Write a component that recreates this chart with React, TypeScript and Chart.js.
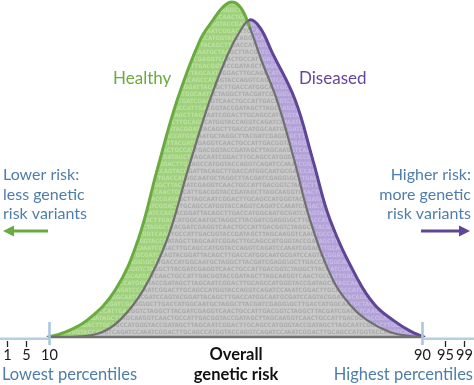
import React, { useEffect, useRef } from "react";
import { Chart, registerables } from "chart.js";

Chart.register(...registerables);

// ---- data (x: percentile of overall genetic risk, y: relative density) ----
const healthyX = [9.8, 13.0, 18.2, 24.2, 29.1, 33.2, 37.5, 42.4, 45.2, 47.3, 49.25, 51.2, 53.1, 55.7, 58.9, 62.6, 66.0, 70.9, 74.6, 78.2, 83.1, 87.4, 90.4];
const healthyY = [0, 1.2, 5.0, 13.9, 28.8, 49.6, 70.3, 88.1, 94.1, 97.9, 99.4, 97.6, 91.7, 81.6, 70.3, 52.5, 34.7, 16.9, 9.5, 5.0, 1.5, 0.3, 0];
const diseasedX = [9.8, 14.9, 20.9, 25.2, 30.2, 35.3, 39.8, 44.5, 48.2, 51.0, 53.1, 55.3, 57.8, 62.8, 66.6, 70.3, 76.3, 79.9, 83.8, 87.4, 90.4];
const diseasedY = [0, 0, 1.2, 5.0, 13.9, 28.8, 49.6, 70.3, 83.4, 90.8, 94.1, 91.7, 84.6, 70.3, 52.5, 34.7, 16.9, 9.5, 5.0, 1.8, 0];

const tickValues = [1, 5, 10, 90, 95, 99];
const tickLabels = ["1", "5", "10", "90", "95", "99"];
const majorTickValues = [10, 90];

const seriesNames = ["Healthy", "Diseased"];
const leftNote = ["Lower risk:", "less genetic", "risk variants"];
const rightNote = ["Higher risk:", "more genetic", "risk variants"];
const axisTitle = ["Overall", "genetic risk"];
const lowLabel = "Lowest percentiles";
const highLabel = "Highest percentiles";

const DNA = "GATCCAGTACGGATTACAGCTTGACCATGGCAATGCTAGGCTTACGATCGAGGTCAACTGCCATTGACGGTACCGATAGCTTAGCAATCGGACTTGCAGCCATGGTACCAGGTCA";

const GREEN = "#6aab3f";
const PURPLE = "#5e4595";
const INNER = "#707070";
const BLUE_TEXT = "#4f7dab";
const FONT = "Lato, 'Open Sans', sans-serif";

function makePattern(bg: string, fg: string): CanvasPattern | string {
  const c = document.createElement("canvas");
  c.width = 144;
  c.height = 42;
  const g = c.getContext("2d");
  if (!g) return bg;
  g.fillStyle = bg;
  g.fillRect(0, 0, c.width, c.height);
  g.fillStyle = fg;
  g.font = "bold 6px 'DejaVu Sans Condensed', 'DejaVu Sans', sans-serif";
  g.textBaseline = "top";
  for (let r = 0; r < 6; r++) {
    const off = (r * 17) % DNA.length;
    const s = DNA.slice(off) + DNA.slice(0, off);
    g.fillText(s, -((r * 3) % 7), r * 7);
  }
  return g.createPattern(c, "repeat") || bg;
}

function interp(xs: number[], ys: number[], x: number): number {
  if (x <= xs[0]) return ys[0];
  for (let i = 1; i < xs.length; i++) {
    if (x <= xs[i]) {
      const t = (x - xs[i - 1]) / (xs[i] - xs[i - 1]);
      return ys[i - 1] + t * (ys[i] - ys[i - 1]);
    }
  }
  return ys[ys.length - 1];
}

function isOuter(sx: number[], sy: number[], ox: number[], oy: number[]) {
  return (c: any) => {
    const i0 = c.p0DataIndex;
    const i1 = c.p1DataIndex;
    const mx = (sx[i0] + sx[i1]) / 2;
    const my = (sy[i0] + sy[i1]) / 2;
    return my > interp(ox, oy, mx) + 0.01;
  };
}

const decorPlugin = {
  id: "decor",
  afterDatasetsDraw(chart: any) {
    const ctx: CanvasRenderingContext2D = chart.ctx;
    const xs = chart.scales.x;
    const base = chart.chartArea.bottom;
    const W = chart.width;
    const xStart = xs.getPixelForValue(healthyX[0]);
    const xEnd = xs.getPixelForValue(diseasedX[diseasedX.length - 1]);
    ctx.save();
    // light blue axis outside the curves
    ctx.strokeStyle = "#b4cfe1";
    ctx.lineWidth = 2.6;
    ctx.beginPath();
    ctx.moveTo(0, base + 1.8);
    ctx.lineTo(xStart, base + 1.8);
    ctx.moveTo(xEnd, base + 1.8);
    ctx.lineTo(W, base + 1.8);
    ctx.stroke();
    // dark baseline under the curves
    ctx.strokeStyle = INNER;
    ctx.lineWidth = 2.6;
    ctx.beginPath();
    ctx.moveTo(xStart, base);
    ctx.lineTo(xEnd, base);
    ctx.stroke();
    // ticks
    tickValues.forEach((v, i) => {
      const x = Math.round(xs.getPixelForValue(v)) + 0.5;
      if (majorTickValues.includes(v)) {
        ctx.strokeStyle = "#a9c8dc";
        ctx.lineWidth = 2.6;
        ctx.beginPath();
        ctx.moveTo(x, base - 15);
        ctx.lineTo(x, base + 8);
        ctx.stroke();
      } else {
        ctx.strokeStyle = "#222";
        ctx.lineWidth = 1.3;
        ctx.beginPath();
        ctx.moveTo(x, base + 4);
        ctx.lineTo(x, base + 10);
        ctx.stroke();
      }
      ctx.fillStyle = "#1a1a1a";
      ctx.font = `14.5px ${FONT}`;
      ctx.textAlign = "center";
      ctx.textBaseline = "alphabetic";
      ctx.fillText(tickLabels[i], x, base + 23);
    });
    // percentile captions
    ctx.fillStyle = BLUE_TEXT;
    ctx.font = `16.5px ${FONT}`;
    ctx.textAlign = "left";
    ctx.fillText(lowLabel, 2, base + 43);
    ctx.textAlign = "right";
    ctx.fillText(highLabel, W - 1, base + 43);
    // axis title
    ctx.fillStyle = "#111";
    ctx.font = `bold 16.5px ${FONT}`;
    ctx.textAlign = "center";
    ctx.fillText(axisTitle[0], 236, base + 23);
    ctx.fillText(axisTitle[1], 236, base + 43);
    // series names
    ctx.font = `17px ${FONT}`;
    ctx.textAlign = "left";
    ctx.fillStyle = GREEN;
    ctx.fillText(seriesNames[0], 113, 84);
    ctx.fillStyle = "#62489a";
    ctx.fillText(seriesNames[1], 299, 84);
    // side notes
    ctx.font = `16px ${FONT}`;
    ctx.fillStyle = BLUE_TEXT;
    leftNote.forEach((t, i) => {
      ctx.textAlign = "left";
      ctx.fillText(t, 3, 180 + i * 19.6);
    });
    rightNote.forEach((t, i) => {
      ctx.textAlign = "right";
      ctx.fillText(t, 471, 180 + i * 19.6);
    });
    // arrows
    const arrow = (x0: number, x1: number, y: number, color: string) => {
      const dir = Math.sign(x1 - x0);
      ctx.strokeStyle = color;
      ctx.fillStyle = color;
      ctx.lineWidth = 3;
      ctx.beginPath();
      ctx.moveTo(x0, y);
      ctx.lineTo(x1 - dir * 8, y);
      ctx.stroke();
      ctx.beginPath();
      ctx.moveTo(x1, y);
      ctx.lineTo(x1 - dir * 11, y - 5.5);
      ctx.lineTo(x1 - dir * 11, y + 5.5);
      ctx.closePath();
      ctx.fill();
    };
    arrow(48, 3, 231, GREEN);
    arrow(421, 470, 231, "#5e4595");
    ctx.restore();
  },
};

export default function App() {
  const ref = useRef<HTMLCanvasElement | null>(null);
  useEffect(() => {
    document.body.style.margin = "0";
    const canvas = ref.current;
    if (!canvas) return;
    const greenPat = makePattern("#9fd07b", "#bde0a3");
    const purplePat = makePattern("#b3a2d8", "#c7bbe5");
    const grayPat = makePattern("#c9c9c9", "#acacac");
    const dOuter = isOuter(diseasedX, diseasedY, healthyX, healthyY);
    const hOuter = isOuter(healthyX, healthyY, diseasedX, diseasedY);
    const chart = new Chart(canvas, {
      type: "line",
      data: {
        datasets: [
          {
            label: seriesNames[1],
            data: diseasedX.map((x, i) => ({ x, y: diseasedY[i] })),
            borderColor: PURPLE,
            borderWidth: 3,
            backgroundColor: purplePat as any,
            fill: { target: 1, above: purplePat as any, below: greenPat as any },
            tension: 0.4,
            pointRadius: 0,
            borderJoinStyle: "round",
            borderCapStyle: "round",
            segment: {
              borderColor: (c: any) => (dOuter(c) ? PURPLE : INNER),
              borderWidth: (c: any) => (dOuter(c) ? 3 : 2.2),
            },
          } as any,
          {
            label: seriesNames[0],
            data: healthyX.map((x, i) => ({ x, y: healthyY[i] })),
            borderColor: GREEN,
            borderWidth: 3,
            backgroundColor: grayPat as any,
            fill: "origin",
            tension: 0.4,
            pointRadius: 0,
            borderJoinStyle: "round",
            borderCapStyle: "round",
            segment: {
              borderColor: (c: any) => (hOuter(c) ? GREEN : INNER),
              borderWidth: (c: any) => (hOuter(c) ? 3 : 2.2),
            },
          } as any,
        ],
      },
      options: {
        responsive: false,
        animation: false,
        devicePixelRatio: 1,
        events: [],
        layout: { padding: { top: 0, bottom: 48, left: 0, right: 0 } },
        scales: {
          x: { type: "linear", min: -0.51, max: 101.16, display: false },
          y: { type: "linear", min: 0, max: 100, display: false },
        },
        plugins: {
          legend: { display: false },
          tooltip: { enabled: false },
          filler: { drawTime: "beforeDatasetsDraw" },
        } as any,
      },
      plugins: [decorPlugin],
    });
    let alive = true;
    if ((document as any).fonts && (document as any).fonts.load) {
      Promise.all([
        (document as any).fonts.load(`16px Lato`),
        (document as any).fonts.load(`bold 15px Lato`),
      ]).then(() => {
        if (alive) chart.draw();
      }).catch(() => {});
    }
    return () => {
      alive = false;
      chart.destroy();
    };
  }, []);
  return (
    <div style={{ width: 474, height: 385, position: "relative" }}>
      <canvas ref={ref} width={474} height={385} style={{ display: "block" }} />
    </div>
  );
}
